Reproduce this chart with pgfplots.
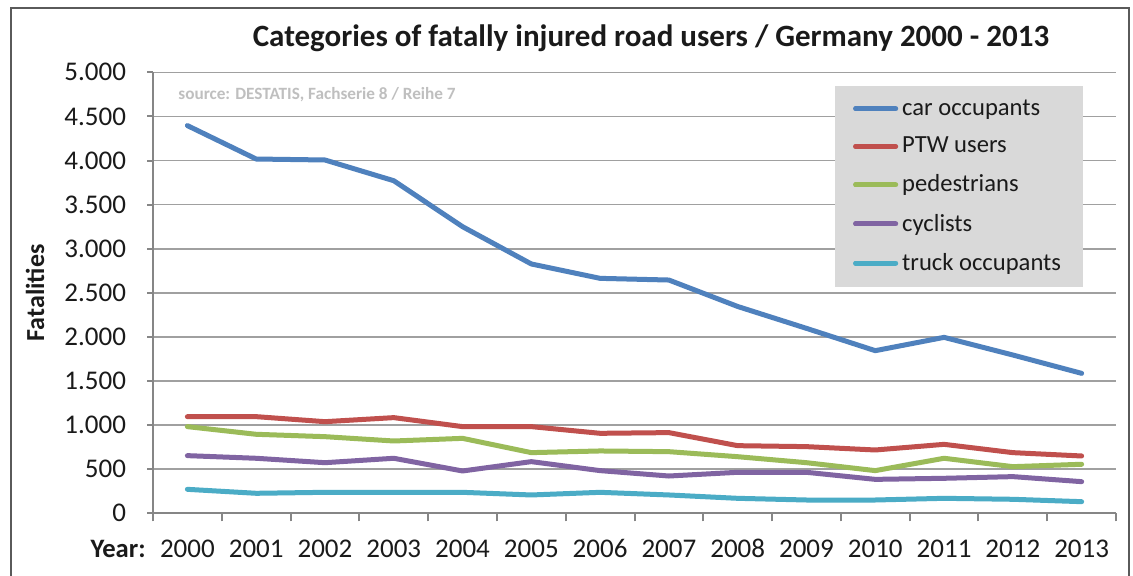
\documentclass[border=0pt]{standalone}
\usepackage{fontspec}
\setmainfont{Carlito}
\usepackage{pgfplots}
\pgfplotsset{compat=1.18}
\definecolor{cBlue}{HTML}{4F81BD}
\definecolor{cRed}{HTML}{C0504D}
\definecolor{cGreen}{HTML}{9BBB59}
\definecolor{cPurple}{HTML}{8064A2}
\definecolor{cCyan}{HTML}{4BACC6}
\definecolor{gridc}{HTML}{A0A0A0}
\definecolor{axisc}{HTML}{868686}
\definecolor{legfill}{HTML}{D9D9D9}
\definecolor{framec}{HTML}{5A5A5A}
\definecolor{txt}{HTML}{1A1A1A}
\begin{document}
\begin{tikzpicture}
\begin{scope}[x=0.5pt,y=-0.5pt]
\useasboundingbox (0,0) rectangle (1133,575);
\fill[white] (0,0) rectangle (1133,575);
\begin{scope}
\clip (0,0) rectangle (1133,575);
\draw[line width=1.3pt, framec] (11,8) rectangle (1129,620);
\end{scope}
\node[font=\bfseries\fontsize{15.5}{17}\selectfont, text=txt] at (651,38) {Categories of fatally injured road users / Germany 2000 - 2013};
\node[font=\bfseries\fontsize{13}{15}\selectfont, text=txt, rotate=90] at (35,293) {Fatalities};
\node[font=\bfseries\fontsize{13.3}{15}\selectfont, text=txt, anchor=base east, inner sep=0pt] at (146,557) {Year:};
\node[font=\bfseries\fontsize{8.6}{10}\selectfont, text=black!25, anchor=west, inner sep=0pt] at (178,95) {source: DESTATIS, Fachserie 8 / Reihe 7};
\end{scope}
\begin{axis}[
  at={(76.5pt,-256.65pt)}, anchor=south west,
  width=481.5pt, height=220.5pt, scale only axis,
  xmin=-0.5, xmax=13.5, ymin=0, ymax=5000,
  axis lines*=left,
  axis line style={axisc, line width=1pt, -},
  xtick={0,...,13},
  xticklabels={2000,2001,2002,2003,2004,2005,2006,2007,2008,2009,2010,2011,2012,2013},
  minor xtick={-0.5,0.5,...,13.5},
  major x tick style={draw=none},
  minor x tick style={axisc, line width=1pt},
  minor tick length=4pt,
  ytick={0,500,...,5000},
  major y tick style={axisc, line width=1pt},
  major tick length=3pt,
  tick align=outside,
  ymajorgrids,
  grid style={gridc, line width=0.8pt},
  /pgf/number format/.cd, 1000 sep={.}, assume math mode=true, /pgfplots/.cd,
  ticklabel style={font=\fontsize{13.5}{15}\selectfont, text=txt},
  yticklabel style={anchor=east, xshift=-7pt},
  xticklabel style={anchor=base, yshift=-19pt},
  legend style={at={(rel axis cs:0.708,0.971)}, anchor=north west, fill=legfill, draw=none,
    font=\fontsize{12.3}{14}\selectfont, text=txt, row sep=5.5pt, inner xsep=9pt, inner ysep=5pt},
  legend cell align=left,
  legend image code/.code={\draw[#1, line width=2.5pt] (0pt,0pt) -- (16.5pt,0pt); \path (0pt,0pt) -- (20pt,0pt);},
  every axis plot/.append style={line width=2.5pt, line join=round, line cap=round},
]
\addplot[cBlue] coordinates {(0,4396) (1,4017) (2,4006) (3,3771) (4,3250) (5,2827) (6,2664) (7,2645) (8,2345) (9,2097) (10,1844) (11,1995) (12,1795) (13,1587)};
\addlegendentry{car occupants}
\addplot[cRed] coordinates {(0,1096) (1,1096) (2,1039) (3,1085) (4,983) (5,983) (6,907) (7,915) (8,767) (9,756) (10,718) (11,782) (12,688) (13,650)};
\addlegendentry{PTW users}
\addplot[cGreen] coordinates {(0,983) (1,896) (2,869) (3,820) (4,850) (5,688) (6,707) (7,699) (8,642) (9,574) (10,484) (11,624) (12,529) (13,556)};
\addlegendentry{pedestrians}
\addplot[cPurple] coordinates {(0,654) (1,624) (2,574) (3,624) (4,480) (5,586) (6,484) (7,423) (8,465) (9,465) (10,385) (11,397) (12,416) (13,359)};
\addlegendentry{cyclists}
\addplot[cCyan] coordinates {(0,272) (1,227) (2,238) (3,238) (4,238) (5,208) (6,238) (7,208) (8,170) (9,151) (10,151) (11,170) (12,159) (13,132)};
\addlegendentry{truck occupants}
\end{axis}
\end{tikzpicture}
\end{document}
